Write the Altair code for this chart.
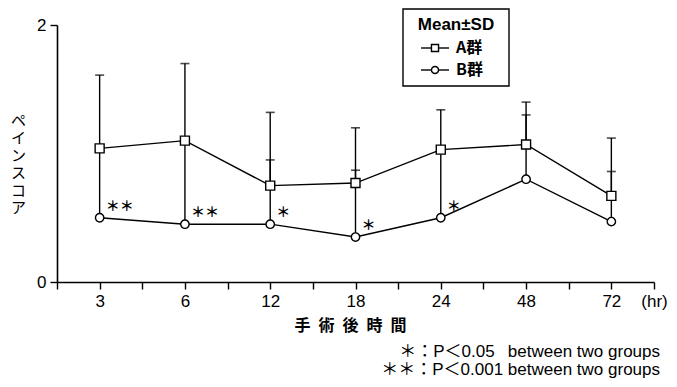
import altair as alt
import pandas as pd

# ---- data ----
times = ["3", "6", "12", "18", "24", "48", "72"]
a_mean = [1.04, 1.10, 0.75, 0.77, 1.03, 1.07, 0.67]
a_upper = [1.61, 1.70, 1.32, 1.20, 1.34, 1.40, 1.12]
b_mean = [0.50, 0.45, 0.45, 0.35, 0.50, 0.80, 0.47]
b_upper = [1.02, 1.08, 0.95, 0.87, 1.01, 1.30, 0.86]

sig_times = ["3", "6", "12", "18", "24"]
sig_marks = ["＊＊", "＊＊", "＊", "＊", "＊"]

groups = ["A群", "B群"]
footnotes = ["＊：P＜0.05\u2002 between two groups", "＊＊：P＜0.001 between two groups"]

rows = []
for i, t in enumerate(times):
    rows.append({"group": groups[0], "idx": i + 1, "time": t, "mean": a_mean[i], "upper": a_upper[i]})
    rows.append({"group": groups[1], "idx": i + 1, "time": t, "mean": b_mean[i], "upper": b_upper[i]})
df = pd.DataFrame(rows)

sig_df = pd.DataFrame({
    "idx": [times.index(t) + 1 for t in sig_times],
    "mean": [b_mean[times.index(t)] for t in sig_times],
    "label": sig_marks,
})

LATIN = "Liberation Sans"
CJK = "Noto Sans CJK JP"

label_arr = "[" + ",".join("'%s'" % t for t in times) + "]"
label_expr = ("datum.value == 7.5 ? '(hr)' : (datum.value % 1 == 0 ? "
              + label_arr + "[datum.value - 1] : '')")

x_enc = alt.X(
    "idx:Q",
    scale=alt.Scale(domain=[0.5, 7.5], nice=False, zero=False),
    axis=alt.Axis(
        values=[0.5 + 0.5 * k for k in range(15)],
        labelExpr=label_expr,
        title="手\u2002術\u2002後\u2002時\u2002間",
        titleFont=CJK, titleFontSize=16, titleFontWeight="bold", titleColor="black",
        titleX=293, titleY=43, titleBaseline="middle", titleAnchor="start", titleAlign="center",
        labelFont=LATIN, labelFontSize=17, labelColor="black", labelPadding=4,
        tickSize=7, tickColor="black", tickWidth=1.4,
        domainColor="black", domainWidth=1.6, grid=False, labelFlush=False,
        labelOverlap=False,
    ),
)
y_enc = alt.Y(
    "mean:Q",
    scale=alt.Scale(domain=[0, 2], nice=False),
    axis=alt.Axis(
        values=[0, 1, 2], format="d",
        title=["ペ", "イ", "ン", "ス", "コ", "ア"],
        titleFont=CJK, titleFontSize=15, titleFontWeight="normal", titleColor="black",
        titleAngle=0, titleX=-39, titleY=88, titleBaseline="top", titleAlign="center",
        titleLineHeight=17.5,
        labelFont=LATIN, labelFontSize=17, labelColor="black", labelPadding=4,
        tickSize=7, tickColor="black", tickWidth=1.4,
        domainColor="black", domainWidth=1.6, grid=False,
    ),
)

base = alt.Chart(df)

bars = base.mark_rule(color="black", strokeWidth=1.4).encode(
    x=x_enc, y=y_enc, y2="upper:Q"
)
caps = base.mark_tick(color="black", orient="horizontal", size=9, thickness=1.6).encode(
    x="idx:Q", y="upper:Q"
)
lines = base.mark_line(color="black", strokeWidth=1.4).encode(
    x="idx:Q", y="mean:Q", detail="group:N"
)
points = base.mark_point(filled=False, fill="white", fillOpacity=1, stroke="black",
                         strokeWidth=1.4, opacity=1).encode(
    x="idx:Q", y="mean:Q",
    shape=alt.Shape("group:N", scale=alt.Scale(domain=groups, range=["square", "circle"]),
                    legend=None),
    size=alt.Size("group:N", scale=alt.Scale(domain=groups, range=[81, 70]), legend=None),
)

stars = alt.Chart(sig_df).mark_text(font=CJK, fontSize=14, fontWeight="bold", fill="black",
                                    align="left", baseline="middle", dx=6, dy=-11).encode(
    x="idx:Q", y="mean:Q", text="label:N"
)

# ---- legend box (annotation) ----
leg_box = alt.Chart(pd.DataFrame({"a": [0]})).mark_rect(
    fill="white", stroke="black", strokeWidth=1.4
).encode(x=alt.value(346), x2=alt.value(452), y=alt.value(-16), y2=alt.value(61))

leg_title = alt.Chart(pd.DataFrame({"t": ["Mean±SD"]})).mark_text(
    font=LATIN, fontSize=17, fontWeight="bold", fill="black", align="center", baseline="middle"
).encode(x=alt.value(399), y=alt.value(0), text="t:N")

leg_df = pd.DataFrame({"group": groups, "yy": [23, 45]})
leg_lines = alt.Chart(leg_df).mark_rule(color="black", strokeWidth=1.4).encode(
    x=alt.value(364), x2=alt.value(392), y=alt.Y("yy:Q", scale=None)
)
leg_pts = alt.Chart(leg_df).mark_point(filled=False, fill="white", fillOpacity=1,
                                       stroke="black", strokeWidth=1.4, size=50).encode(
    x=alt.value(378), y=alt.Y("yy:Q", scale=None),
    shape=alt.Shape("group:N", scale=alt.Scale(domain=groups, range=["square", "circle"]),
                    legend=None),
)
leg_text = alt.Chart(leg_df).mark_text(font=CJK, fontSize=16, fontWeight="bold", fill="black",
                                       align="left", baseline="middle").encode(
    x=alt.value(399), y=alt.Y("yy:Q", scale=None), text="group:N"
)

foot_df = pd.DataFrame({"t": footnotes, "yy": [327, 345]})
foot = alt.Chart(foot_df).mark_text(font=LATIN + ", " + CJK, fontSize=17, fill="black",
                                    align="right", baseline="middle").encode(
    x=alt.value(603), y=alt.Y("yy:Q", scale=None), text="t:N"
)

chart = alt.layer(
    bars, caps, lines, points, stars, leg_box, leg_title, leg_lines, leg_pts, leg_text, foot
).resolve_scale(shape="independent").properties(
    width=597, height=257,
    padding={"left": 49, "top": 17, "right": 15, "bottom": 97},
    autosize=alt.AutoSizeParams(type="none"),
    background="white",
).configure_view(stroke=None)

chart.save("out.html", embed_options={"renderer": "svg", "actions": False})
